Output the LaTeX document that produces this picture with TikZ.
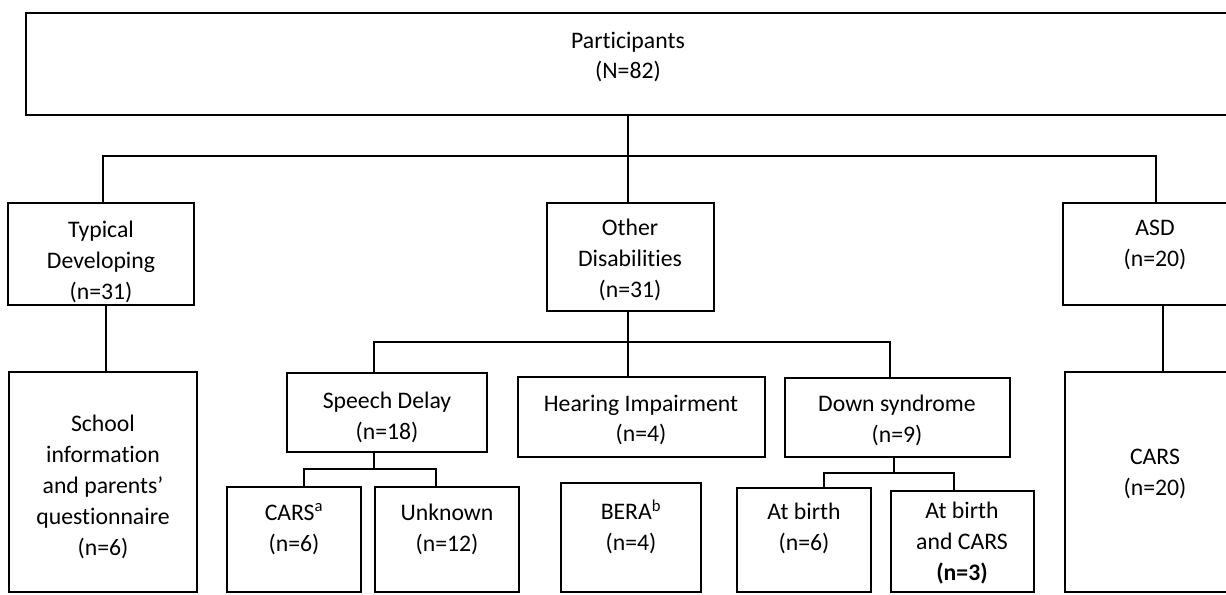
\documentclass[tikz,border=0pt]{standalone}
\usepackage{fontspec}
\setmainfont{Carlito}[RawFeature={-liga;-clig;-calt;-dlig}]
\usetikzlibrary{calc}
\tikzset{
  box/.style={draw=black, line width=1.3pt, rectangle, inner sep=0pt},
  txt/.style={align=center, inner sep=0pt, font=\fontsize{17.8}{23.2}\selectfont},
  conn/.style={draw=black, line width=1.3pt},
}
\newcommand{\pbox}[5]{% name, x1, y1, x2, y2
  \node[box, minimum width={(#4-#2)*0.75pt}, minimum height={(#5-#3)*0.75pt}] (#1) at ({(#2+#4)/2},{(#3+#5)/2}) {};}
\begin{document}
\begin{tikzpicture}[x=0.75pt,y=-0.75pt]
\useasboundingbox (0,0) rectangle (1226,594);
% boxes
\pbox{top}{26}{13}{1245}{115}
\pbox{typ}{8}{203}{194}{305}
\pbox{oth}{547}{203}{714}{311}
\pbox{asd}{1063}{203}{1245}{305}
\pbox{sch}{9}{372}{197}{592}
\pbox{spd}{287}{373}{487}{452}
\pbox{hea}{518}{377}{765}{457}
\pbox{dow}{785}{378}{1010}{457}
\pbox{crs}{1065}{372}{1245}{592}
\pbox{csa}{227}{487}{361}{592}
\pbox{unk}{375}{487}{519}{592}
\pbox{ber}{561}{483}{701}{592}
\pbox{atb}{737}{488}{871}{592}
\pbox{atc}{891}{491}{1034}{592}
% texts
\node[txt] (ttop) at (628,57) {Participants\\(N=82)};
\begin{scope}
\clip (typ.south west) rectangle (typ.north east);
\node[txt] (ttyp) at (101,262) {Typical\\Developing\\(n=31)};
\end{scope}
\node[txt] (toth) at (630,260) {Other\\Disabilities\\(n=31)};
\node[txt] (tasd) at (1155,245) {ASD\\(n=20)};
\node[txt] (tsch) at (103,487) {School\\information\\and parents’\\questionnaire\\(n=6)};
\node[txt] (tspd) at (387,417) {Speech Delay\\(n=18)};
\node[txt] (thea) at (641,420) {Hearing Impairment\\(n=4)};
\node[txt] (tdow) at (897,420) {Down syndrome\\(n=9)};
\node[txt] (tcrs) at (1155,474) {CARS\\(n=20)};
\node[txt] (tcsa) at (294,529) {CARS\textsuperscript{a}\\(n=6)};
\node[txt] (tunk) at (447,529) {Unknown\\(n=12)};
\node[txt] (tber) at (631,527) {BERA\textsuperscript{b}\\(n=4)};
\node[txt] (tatb) at (804,528) {At birth\\(n=6)};
\node[txt] (tatc) at (962,543) {At birth\\and CARS\\\textbf{(n=3)}};
% connectors
\coordinate (j0) at ($(top.south -| 628,0)+(0,40)$);
\draw[conn] (top.south -| j0) -- (j0);
\draw[conn] ($(typ.north west)+(96,0)$) |- (j0) -| ($(asd.north west)+(94,0)$);
\draw[conn] (j0) -- (oth.north -| j0);
\draw[conn] ($(typ.south west)+(99,0)$) -- ($(sch.north west)+(98,0)$);
\draw[conn] ($(asd.south west)+(101,0)$) -- ($(crs.north west)+(99,0)$);
\coordinate (j1) at ($(oth.south west)+(82,30)$);
\draw[conn] ($(oth.south west)+(82,0)$) -- (hea.north -| j1);
\draw[conn] ($(spd.north west)+(88,0)$) |- (j1) -| ($(dow.north west)+(106,0)$);
\coordinate (j2) at ($(spd.south west)+(88,16)$);
\draw[conn] ($(spd.south west)+(88,0)$) -- (j2);
\draw[conn] ($(csa.north west)+(78,0)$) |- (j2) -| ($(unk.north west)+(62,0)$);
\coordinate (j3) at ($(dow.south west)+(110,15)$);
\draw[conn] ($(dow.south west)+(110,0)$) -- (j3);
\draw[conn] ($(atb.north west)+(88,0)$) |- (j3) -| ($(atc.north west)+(64,0)$);
\end{tikzpicture}
\end{document}
